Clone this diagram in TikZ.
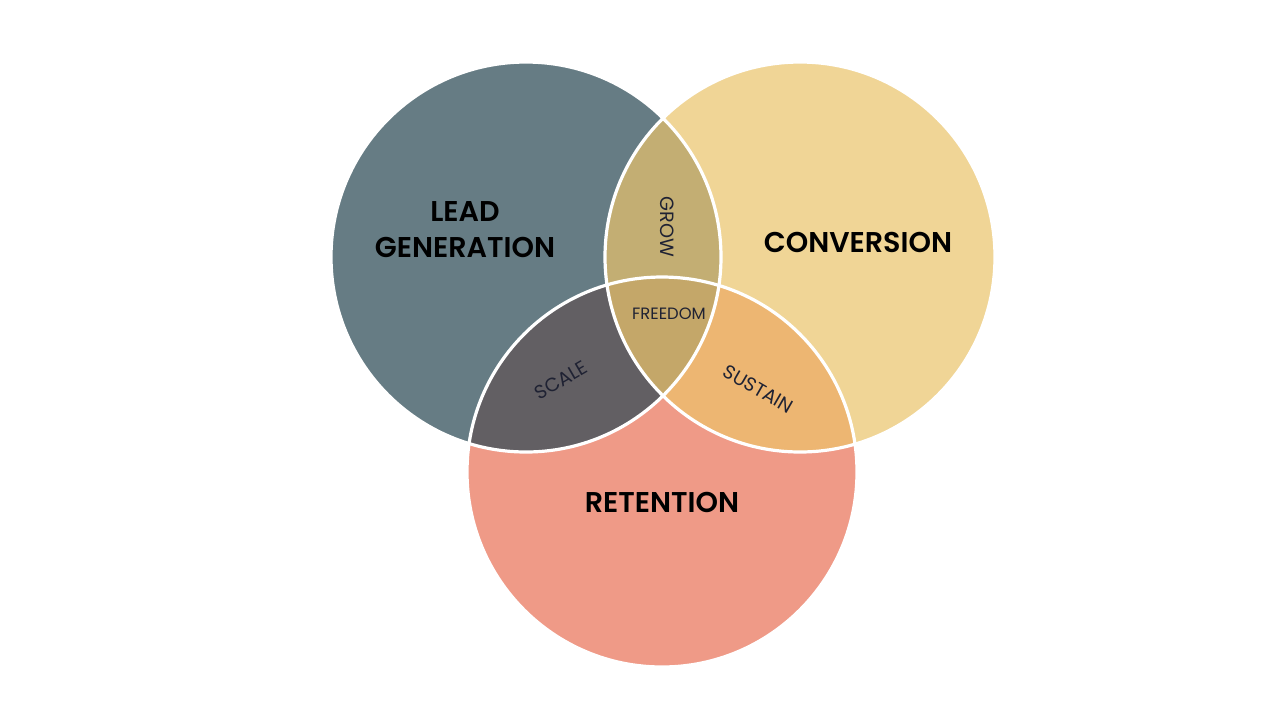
\documentclass[tikz,border=0pt]{standalone}
\usepackage{fontspec}
\setmainfont{Poppins}[BoldFont={Poppins SemiBold}]

\definecolor{leadcol}{HTML}{667C84}
\definecolor{convcol}{HTML}{F0D596}
\definecolor{retcol}{HTML}{EF9A87}
\definecolor{growcol}{HTML}{C3AE73}
\definecolor{scalecol}{HTML}{625F63}
\definecolor{sustcol}{HTML}{EDB672}
\definecolor{freecol}{HTML}{C4A769}
\definecolor{inktext}{HTML}{1F2233}

\begin{document}
\begin{tikzpicture}[
    x=0.5pt, y=-0.5pt,
    rim/.style={draw=white, line width=1.6pt},
    % Group styles for the labels
    biglabel/.style={align=center, font=\fontsize{14.3}{18}\selectfont\bfseries, text=black},
    smalllabel/.style={font=\fontsize{9.6}{11}\selectfont, text=inktext},
    tinylabel/.style={font=\fontsize{8.2}{10}\selectfont, text=inktext}
]
    \useasboundingbox (0,0) rectangle (1280,720);

    % --- CENTRES of the three sets ---
    \coordinate (Lead) at (526,257);
    \coordinate (Conv) at (800,257);
    \coordinate (Ret) at (662,472);

    % --- FILLS: whole circles ---
    \fill[leadcol] (Lead) circle[radius=195];
    \fill[convcol] (Conv) circle[radius=195];
    \fill[retcol] (Ret) circle[radius=195];

    % --- FILLS: pairwise overlaps ---
    \begin{scope}
        \clip (Lead) circle[radius=195];
        \fill[growcol] (Conv) circle[radius=195];
        \fill[scalecol] (Ret) circle[radius=195];
    \end{scope}
    \begin{scope}
        \clip (Conv) circle[radius=195];
        \fill[sustcol] (Ret) circle[radius=195];
    \end{scope}

    % --- FILL: triple overlap ---
    \begin{scope}
        \clip (Lead) circle[radius=195];
        \clip (Conv) circle[radius=195];
        \fill[freecol] (Ret) circle[radius=195];
    \end{scope}

    % --- OUTLINES ---
    \draw[rim] (Lead) circle[radius=195];
    \draw[rim] (Conv) circle[radius=195];
    \draw[rim] (Ret) circle[radius=195];

    % --- LABELS ---
    \node[biglabel] (LeadLabel) at (465,230) {LEAD\\GENERATION};
    \node[biglabel] (ConvLabel) at (858,242) {CONVERSION};
    \node[biglabel] (RetLabel) at (662,502) {RETENTION};

    \node[smalllabel, rotate=-90] (GrowLabel) at (667,227) {GROW};
    \node[tinylabel] (FreeLabel) at (669,314) {FREEDOM};
    \node[smalllabel, rotate=30, inner sep=0pt] (ScaleLabel) at (561,380) {SCALE};
    \node[smalllabel, rotate=-30, inner sep=0pt] (SustLabel) at (758,389) {SUSTAIN};

\end{tikzpicture}
\end{document}
